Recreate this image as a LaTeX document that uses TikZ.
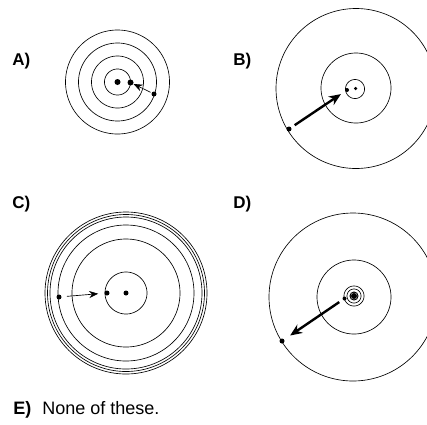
\documentclass[tikz,border=0pt]{standalone}
\usepackage{fontspec}
\setmainfont{Liberation Sans}
\usetikzlibrary{arrows.meta}

\newcommand\ring[3]{%
  \draw plot[domain=0:360,samples=180] ({#1+#3*cos(\x)},{#2+#3*sin(\x)}) -- cycle;}

\begin{document}
\begin{tikzpicture}[x=1pt,y=1pt,line width=0.65pt,
  lbl/.style={font=\bfseries\fontsize{17}{20}\selectfont,anchor=west,inner sep=0pt},
  dot/.style={circle,fill=black,inner sep=0pt,minimum size=#1},
  dot/.default=5pt,
  thinarrow/.style={-{Stealth[length=9pt,width=7pt]}},
  thickarrow/.style={line width=2.4pt,-{Stealth[length=12pt,width=10pt]}}]
\useasboundingbox (0,0) rectangle (427,-424);
\clip (0,0) rectangle (427,-424);

% A
\foreach \r in {52,39,26,13} {\ring{117.5}{-82}{\r}}
\node[dot=6pt] (a0) at (117.5,-82) {};
\node[dot=6pt] (a1) at (130.5,-82.5) {};
\node[dot] (a2) at (154,-94) {};
\draw[thinarrow,shorten <=1pt] (a2) -- (a1);
\node[lbl] (labA) at (12,-61) {A)};

% B
\ring{356}{-88.5}{80}
\ring{356}{-88}{35}
\ring{355}{-89}{9.5}
\node[dot=3.5pt] (b0) at (355.5,-88.5) {};
\node[dot=4pt] (b1) at (347,-90) {};
\node[dot] (b2) at (289,-129) {};
\draw[thickarrow,shorten <=4pt,shorten >=5pt] (b2) -- (b1);
\node[lbl] (labB) at (233,-61) {B)};

% C
\foreach \r in {81,78.5,76,68,54,21} {\ring{126}{-293}{\r}}
\node[dot] (c0) at (126,-293) {};
\node[dot] (c1) at (107,-293) {};
\node[dot] (c2) at (59,-297) {};
\draw[thinarrow,shorten <=5pt,shorten >=6pt] (c2) -- (c1);
\node[lbl] (labC) at (12,-204) {C)};

% D
\ring{353}{-297}{84}
\ring{354}{-297}{37}
\ring{354}{-296}{10}
\ring{354}{-296}{7}
\draw[line width=1pt] (354,-296) circle(4pt);
\node[dot=6pt] (d0) at (354,-296) {};
\node[dot=4pt] (d1) at (344.5,-298.5) {};
\node[dot] (d2) at (282,-341) {};
\draw[thickarrow,shorten <=4pt,shorten >=7pt] (d1) -- (d2);
\node[lbl] (labD) at (233,-204) {D)};

% E
\node[anchor=base west,inner sep=0pt,font=\fontsize{18}{21}\selectfont] (labE) at (13,-414)
{\textbf{E)}\hspace{11pt}None of these.};
\end{tikzpicture}
\end{document}
